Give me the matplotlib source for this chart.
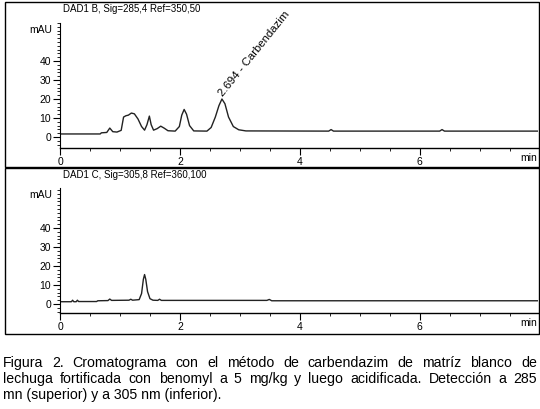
import matplotlib

matplotlib.use("Agg")
import matplotlib.pyplot as plt
from matplotlib.patches import Rectangle
from matplotlib.ticker import MultipleLocator

plt.rcParams["font.family"] = ["Liberation Sans", "DejaVu Sans"]

# trace: time (min) / signal (mAU)
top_time = [0.0, 0.67, 0.69, 0.78, 0.83, 0.88, 0.95, 1.02, 1.06, 1.10, 1.14, 1.19, 1.24,
            1.30, 1.36, 1.41, 1.45, 1.49, 1.52, 1.56, 1.62, 1.68, 1.74, 1.80, 1.92, 1.99,
            2.03, 2.07, 2.11, 2.16, 2.23, 2.45, 2.52, 2.59, 2.65, 2.70, 2.75, 2.81, 2.89,
            2.98, 3.10, 4.48, 4.52, 4.56, 6.33, 6.37, 6.41, 7.97]
top_mau = [1.6, 1.6, 2.2, 2.4, 4.7, 2.8, 2.6, 3.5, 10.5, 11.2, 11.5, 12.6, 12.2,
           9.5, 5.5, 3.6, 6.5, 11.0, 6.5, 3.6, 4.4, 5.7, 4.6, 3.3, 3.1, 5.5,
           11.5, 14.5, 12.0, 6.0, 3.2, 3.1, 5.0, 10.5, 16.5, 20.0, 17.5, 10.5, 5.5,
           3.8, 3.2, 3.1, 3.9, 3.1, 3.1, 3.9, 3.1, 3.1]

bottom_time = [0.0, 0.19, 0.21, 0.23, 0.27, 0.29, 0.31, 0.61, 0.63, 0.80, 0.83, 0.86,
               1.15, 1.18, 1.21, 1.32, 1.36, 1.39, 1.41, 1.43, 1.46, 1.50, 1.55, 1.63,
               1.66, 1.69, 3.45, 3.49, 3.53, 7.97]
bottom_mau = [1.2, 1.2, 2.0, 1.2, 1.2, 2.0, 1.3, 1.3, 1.7, 1.8, 2.6, 1.9,
              2.0, 2.5, 2.0, 2.3, 5.5, 13.0, 15.5, 13.0, 6.5, 2.8, 2.0, 1.9,
              2.5, 1.9, 1.9, 2.4, 1.7, 1.7]

panel_titles = ["DAD1 B, Sig=285,4 Ref=350,50", "DAD1 C, Sig=305,8 Ref=360,100"]
peak_label = "2.694 - Carbendazim"
peak_time = 2.70
peak_mau = 20.0
y_ticks = [0, 10, 20, 30, 40]
x_ticks = [0, 2, 4, 6]

caption_lines = [
    "Figura 2. Cromatograma con el método de carbendazim de matríz blanco de",
    "lechuga fortificada con benomyl a 5 mg/kg y luego acidificada. Detección a 285",
    "mn (superior) y a 305 nm (inferior).",
]

W, H = 540, 409
fig = plt.figure(figsize=(W / 100, H / 100), dpi=100)


def fx(x):
    return x / W


def fy(y):
    return 1 - y / H


# (box top, box bottom, axis top, axis line, zero line) in pixels
layout = [(2, 167, 23, 148, 137), (168, 334, 188, 313, 304)]
traces = [(top_time, top_mau), (bottom_time, bottom_mau)]
px_per_mau = 1.9

for i, (box_top, box_bot, ax_top, ax_bot, zero) in enumerate(layout):
    fig.patches.append(Rectangle((fx(5), fy(box_bot)), fx(534), (box_bot - box_top) / H,
                                 transform=fig.transFigure, fill=False,
                                 edgecolor="black", linewidth=1.0))
    ax = fig.add_axes([fx(60), fy(ax_bot), fx(478), (ax_bot - ax_top) / H])
    ax.patch.set_visible(False)
    t, v = traces[i]
    ax.plot(t, v, color="#222222", linewidth=1.0)
    ax.set_xlim(0, 7.97)
    ax.set_ylim(-(ax_bot - zero) / px_per_mau, (zero - ax_top) / px_per_mau)
    for side in ("top", "right"):
        ax.spines[side].set_visible(False)
    ax.spines["left"].set_linewidth(0.8)
    ax.spines["bottom"].set_linewidth(1.0)
    ax.set_xticks(x_ticks)
    ax.set_yticks(y_ticks)
    ax.xaxis.set_minor_locator(MultipleLocator(0.5))
    ax.yaxis.set_minor_locator(MultipleLocator(2))
    ax.tick_params(axis="both", which="major", labelsize=7.5, length=5, width=0.8, pad=1.5)
    ax.tick_params(axis="both", which="minor", length=2.5, width=0.6)
    fig.text(fx(63), fy(box_top + 7), panel_titles[i], fontsize=7, ha="left", va="center")
    fig.text(fx(52), fy(ax_top + 7), "mAU", fontsize=7.5, ha="right", va="center")
    fig.text(fx(537), fy(ax_bot + 10), "min", fontsize=7.5, ha="right", va="center")
    if i == 0:
        ax.text(peak_time + 0.05, peak_mau + 0.5, peak_label, fontsize=8.2, rotation=51,
                rotation_mode="anchor", ha="left", va="bottom")

# caption, first two lines justified like the original
renderer = fig.canvas.get_renderer()
line_y = [363, 379, 395]
for k, line in enumerate(caption_lines):
    if k == len(caption_lines) - 1:
        fig.text(fx(3), fy(line_y[k]), line, fontsize=10.2, ha="left", va="center")
        continue
    words = line.split(" ")
    items = [fig.text(fx(3), fy(line_y[k]), w, fontsize=10.2, ha="left", va="center")
             for w in words]
    widths = [it.get_window_extent(renderer).width for it in items]
    gap = (534 - sum(widths)) / (len(words) - 1)
    x = 3
    for it, w in zip(items, widths):
        it.set_x(fx(x))
        x += w + gap

fig.savefig("out.png", dpi=100)
